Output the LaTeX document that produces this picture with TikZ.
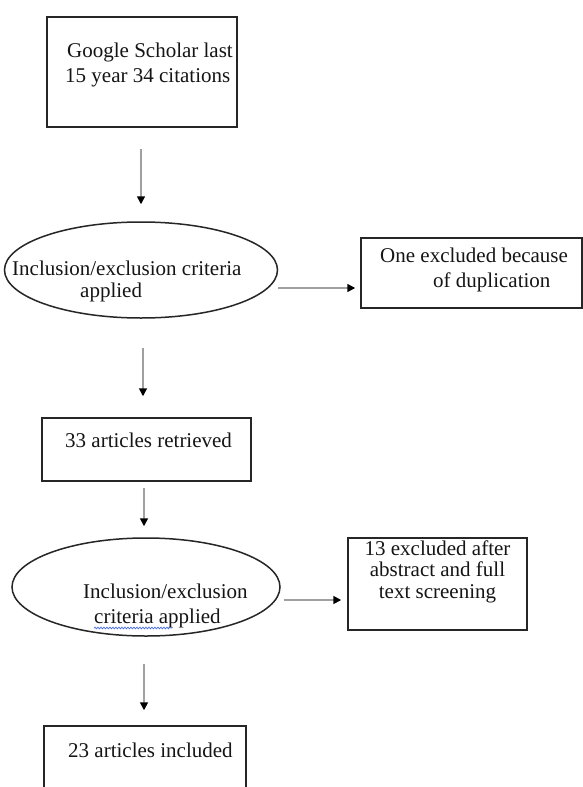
\documentclass[tikz,border=0pt]{standalone}
\usepackage{fontspec}
\setmainfont{Liberation Serif}
\usetikzlibrary{arrows.meta,shapes.geometric,decorations.pathmorphing}
\definecolor{boxc}{HTML}{262626}
\definecolor{arrc}{HTML}{A0A0A0}
\definecolor{txtc}{HTML}{151515}
\definecolor{spellc}{HTML}{4A6FE0}
\begin{document}
\begin{tikzpicture}[x=1pt,y=-1pt,
  boxnode/.style={draw=boxc, line width=1.5pt, rectangle, inner sep=0pt},
  ellnode/.style={draw=boxc, line width=1.5pt, ellipse, inner sep=0pt},
  txt/.style={text=txtc, inner sep=0pt, font=\fontsize{21}{25}\selectfont},
  arr/.style={draw=arrc, line width=1.6pt, -{Triangle[length=8pt,width=8pt,color=black]}},
  spell/.style={draw=spellc, line width=0.7pt, decorate, decoration={snake, amplitude=0.9pt, segment length=3pt}}]
\clip (0,0) rectangle (583,787);
\fill[white] (0,0) rectangle (583,787);

% shapes
\node[boxnode, minimum width=190pt, minimum height=110pt] (b1) at (142,72) {};
\node[ellnode, minimum width=273pt, minimum height=96pt] (e1) at (141,270) {};
\node[boxnode, minimum width=221pt, minimum height=70pt] (b2) at (471.5,273) {};
\node[boxnode, minimum width=209pt, minimum height=63pt] (b3) at (146.5,449.5) {};
\node[ellnode, minimum width=268pt, minimum height=98pt] (e2) at (146,587) {};
\node[boxnode, minimum width=179pt, minimum height=92pt] (b4) at (437.5,584) {};
\node[boxnode, minimum width=202pt, minimum height=88pt] (b5) at (145,770) {};

% texts
\node[txt, anchor=west, align=left] (t1) at (65,64.5) {\hspace*{2pt}Google Scholar last\\15 year 34 citations};
\node[txt, anchor=west, align=left, font=\fontsize{21}{22}\selectfont] (te1) at (12,281) {Inclusion/exclusion criteria\\\hspace*{68pt}applied};
\node[txt, anchor=west, align=left] (t2) at (380,269.5) {One excluded because\\\hspace*{53pt}of duplication};
\node[txt, anchor=west] (t3) at (65,440) {33 articles retrieved};
\node[txt, anchor=west, align=left] (te2) at (83,605.5) {Inclusion/exclusion\\\hspace*{11pt}criteria applied};
\node[txt, align=center, font=\fontsize{21}{21.5}\selectfont] (t4) at (437.5,571.5) {13 excluded after\\abstract and full\\text screening};
\node[txt, anchor=west] (t5) at (68,750) {23 articles included};

% spell-check underline
\coordinate (sp1) at (94,628);
\coordinate (sp2) at (172,628);
\draw[spell] (sp1) -- (sp2);

% connectors
\draw[arr, shorten <=21pt, shorten >=17pt] (b1.south -| e1.north) -- (e1.north);
\draw[arr, shorten >=5pt] ([yshift=-18pt]e1.east) -- ([yshift=-15pt]b2.west);
\draw[arr, shorten <=29pt, shorten >=21pt] ([xshift=2pt]e1.south) -- ([xshift=2pt]e1.south |- b3.north);
\draw[arr, shorten <=6pt, shorten >=11pt] ([xshift=-2.5pt]b3.south) -- ([xshift=-2.5pt]b3.south |- e2.north);
\draw[arr, shorten <=3pt, shorten >=6pt] ([yshift=-13pt]e2.east) -- ([yshift=-16pt]b4.west);
\draw[arr, shorten <=27pt, shorten >=15pt] ([xshift=-2pt]e2.south) -- ([xshift=-2pt]e2.south |- b5.north);
\end{tikzpicture}
\end{document}
